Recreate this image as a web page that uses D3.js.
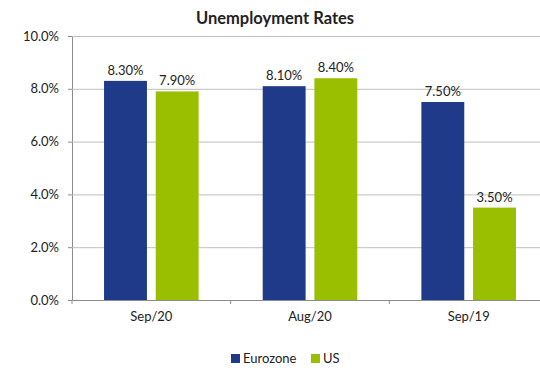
<!DOCTYPE html>
<html>
<head>
<meta charset="utf-8">
<script src="https://cdn.jsdelivr.net/npm/d3@7"></script>
<style>
  body { margin: 0; background: #fff; }
  text { font-family: Lato, "Open Sans", sans-serif; fill: #222; }
</style>
</head>
<body>
<div id="chart"></div>
<script>
// data
var categories = ["Sep/20", "Aug/20", "Sep/19"];
var seriesNames = ["Eurozone", "US"];
var eurozone = [8.3, 8.1, 7.5];
var us = [7.9, 8.4, 3.5];
var yTicks = [0, 2, 4, 6, 8, 10];
var colors = ["#1F3A89", "#99BF00"];

var width = 540, height = 368;
var margin = { top: 36, right: -8, bottom: 68, left: 72 };

var svg = d3.select("#chart")
    .append("svg")
    .attr("width", width)
    .attr("height", height);

var x = d3.scaleBand()
    .domain(categories)
    .range([margin.left, width - margin.right]);

var x1 = d3.scaleBand()
    .domain(seriesNames)
    .range([0, x.bandwidth()])
    .paddingInner(0.17)
    .paddingOuter(0.62);

var y = d3.scaleLinear()
    .domain([0, 10])
    .range([height - margin.bottom, margin.top]);

// gridlines + left axis
svg.append("g")
    .attr("transform", "translate(" + margin.left + ",0)")
    .call(d3.axisLeft(y).tickValues(yTicks).tickFormat(d => d.toFixed(1) + "%")
        .tickSize(4).tickPadding(9))
    .call(g => g.select(".domain").attr("stroke", "#8c8c8c"))
    .call(g => g.selectAll(".tick line").attr("stroke", "#8c8c8c"))
    .call(g => g.selectAll(".tick text").style("font-size", "13px"))
    .call(g => g.selectAll(".tick").filter(d => d > 0).append("line")
        .attr("x1", 0).attr("x2", width).attr("stroke", "#bfbfbf"));

// bottom axis
svg.append("g")
    .attr("transform", "translate(0," + y(0) + ")")
    .call(d3.axisBottom(x).tickSize(0).tickPadding(12))
    .call(g => g.select(".domain").attr("stroke", "#8c8c8c"))
    .call(g => g.selectAll(".tick text").style("font-size", "13px"));

// category separators
svg.append("g")
    .selectAll("line")
    .data(categories)
    .enter()
    .append("line")
        .attr("x1", d => x(d))
        .attr("x2", d => x(d))
        .attr("y1", y(0))
        .attr("y2", y(0) + 4)
        .attr("stroke", "#8c8c8c");

var rows = categories.map((c, i) => ({ cat: c, values: [eurozone[i], us[i]] }));

var groups = svg.append("g")
    .selectAll("g")
    .data(rows)
    .enter()
    .append("g")
    .attr("transform", d => "translate(" + x(d.cat) + ",0)");

var bars = groups.selectAll("g")
    .data(d => d.values.map((v, j) => ({ name: seriesNames[j], value: v, j: j })))
    .enter()
    .append("g");

bars.append("rect")
    .attr("x", d => x1(d.name))
    .attr("y", d => y(d.value))
    .attr("width", x1.bandwidth())
    .attr("height", d => y(0) - y(d.value))
    .attr("fill", d => colors[d.j]);

bars.append("text")
    .attr("x", d => x1(d.name) + x1.bandwidth() / 2)
    .attr("y", d => y(d.value) - 6)
    .attr("text-anchor", "middle")
    .style("font-size", "13px")
    .text(d => d.value.toFixed(2) + "%");

// title
svg.append("text")
    .attr("x", 275)
    .attr("y", 24)
    .attr("text-anchor", "middle")
    .style("font-size", "16.5px")
    .style("font-weight", "bold")
    .text("Unemployment Rates");

// legend
var legend = svg.append("g")
    .attr("transform", "translate(231,354)");
var legendX = [0, 80];
var item = legend.selectAll("g")
    .data(seriesNames)
    .enter()
    .append("g")
    .attr("transform", (d, i) => "translate(" + legendX[i] + ",0)");
item.append("rect")
    .attr("width", 9).attr("height", 9)
    .attr("fill", (d, i) => colors[i]);
item.append("text")
    .attr("x", 12).attr("y", 9)
    .style("font-size", "13px")
    .text(d => d);
</script>
</body>
</html>
